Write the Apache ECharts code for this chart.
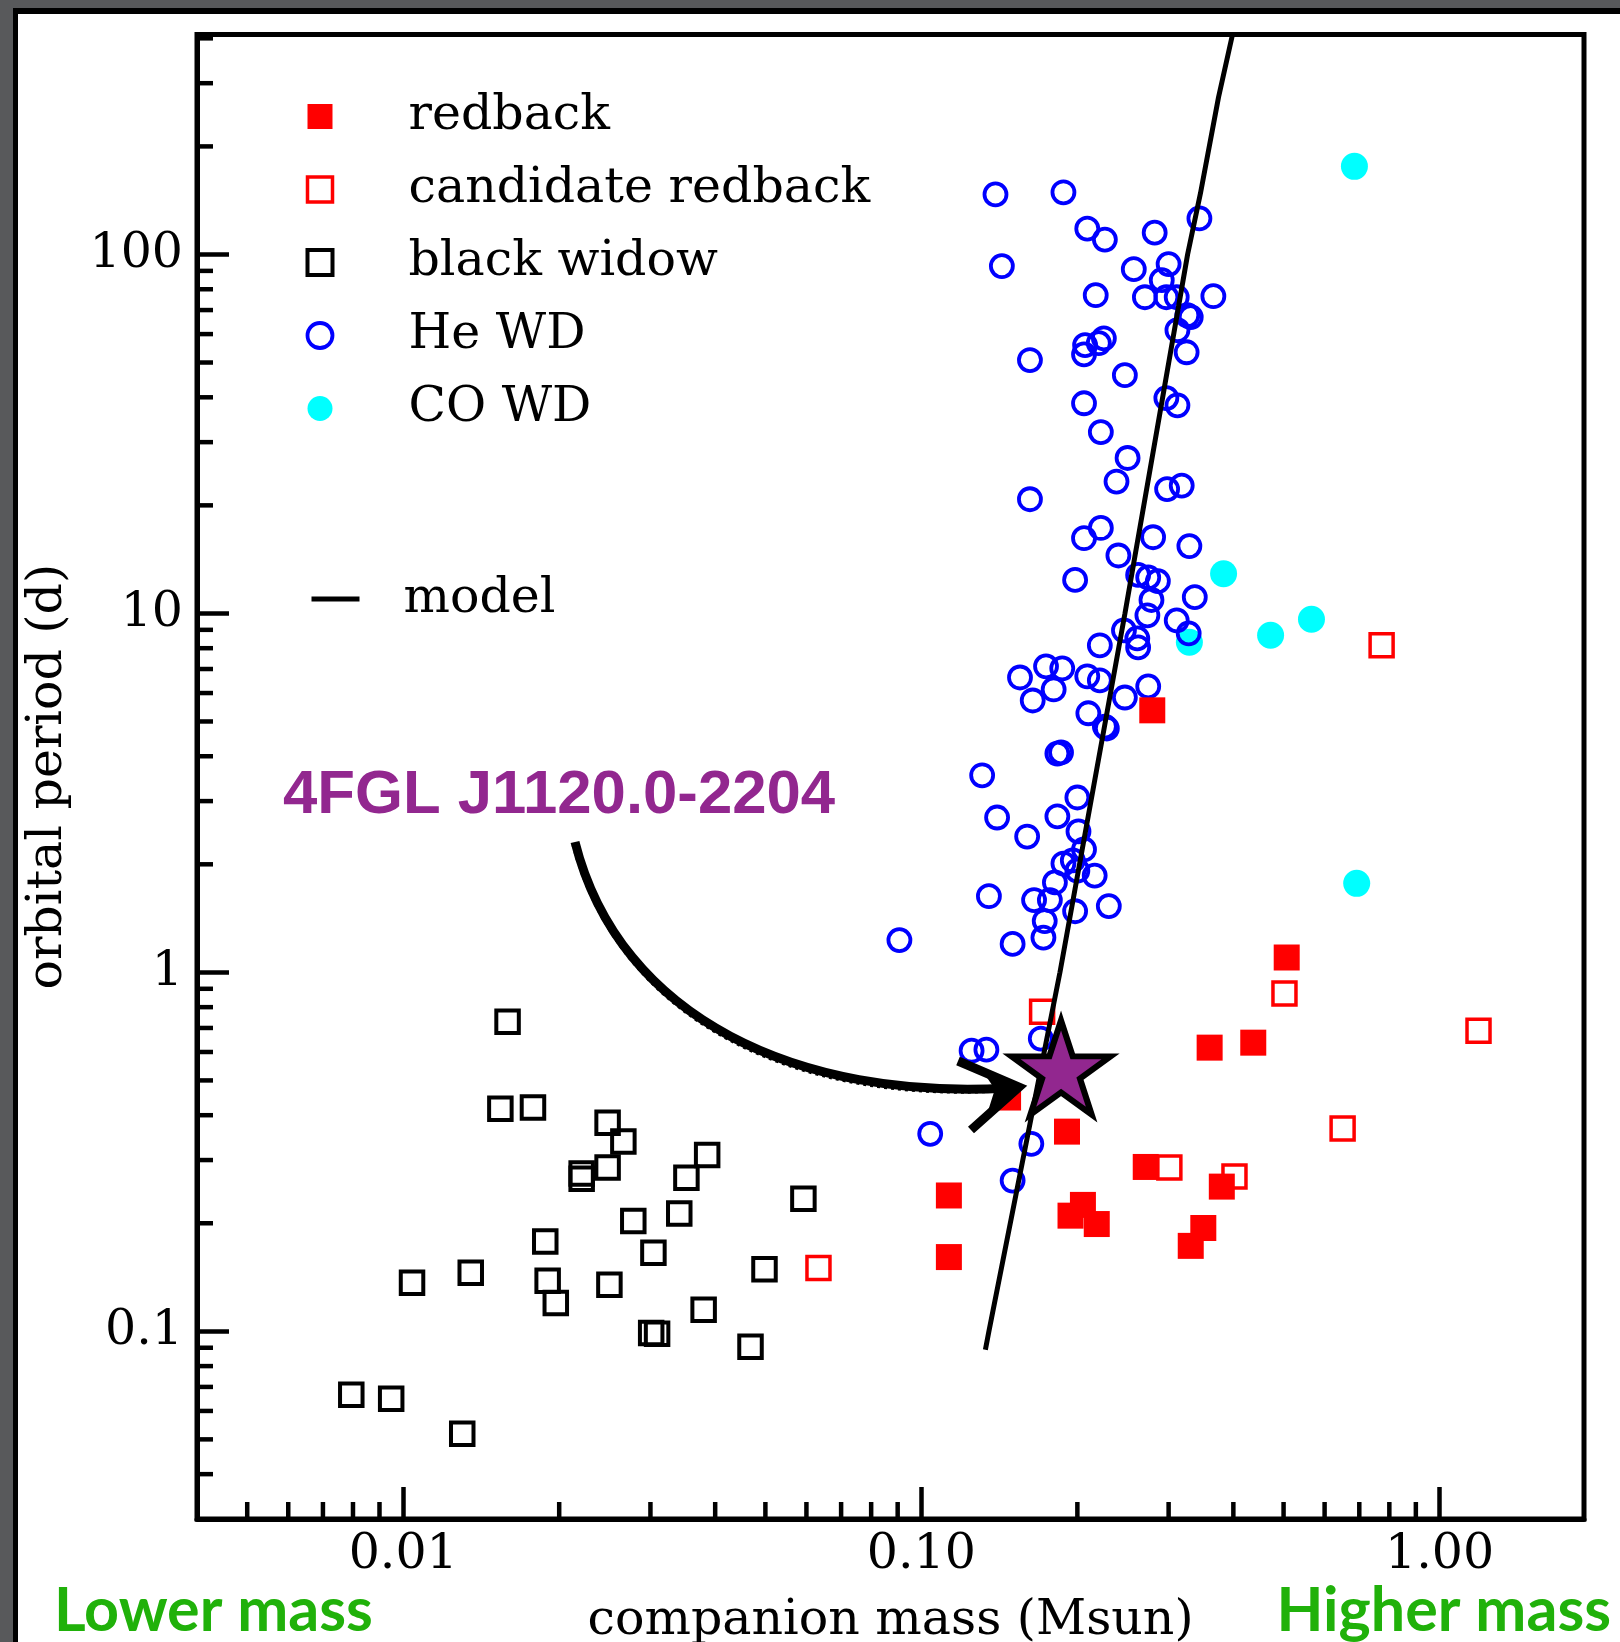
<!DOCTYPE html>
<html><head><meta charset="utf-8">
<script src="https://cdn.jsdelivr.net/npm/echarts@6/dist/echarts.min.js"></script>
<style>
html,body{margin:0;padding:0;background:#58595b;width:1620px;height:1642px;overflow:hidden;}
#frame{position:absolute;left:13px;top:8px;width:1602px;height:1628px;background:#fff;border-left:5px solid #000;border-top:6px solid #000;}
#chart{position:absolute;left:0;top:0;width:1620px;height:1642px;}
</style></head><body><div id="frame"></div><div id="chart"></div>
<script>
// ---- data (companion mass in Msun, orbital period in days) ----
const redbackMass   = [0.507,0.360,0.437,0.279,0.191,0.271,0.113,0.205,0.194,0.218,0.380,0.350,0.331,0.113,0.147];
const redbackPeriod = [1.10,0.617,0.637,5.37,0.360,0.287,0.239,0.225,0.210,0.199,0.253,0.194,0.173,0.161,0.448];

const candRbMass   = [0.773,0.171,0.502,1.189,0.650,0.301,0.402,0.0633];
const candRbPeriod = [8.15,0.777,0.873,0.688,0.367,0.286,0.270,0.150];

const bwMass   = [0.0159,0.0154,0.0178,0.0248,0.0266,0.0248,0.0221,0.0221,0.0386,0.0352,0.0592,0.0341,0.0278,0.0188,0.0304,0.0498,0.0135,0.0104,0.0190,0.0197,0.0250,0.0380,0.0301,0.0309,0.0468,0.00794,0.00948,0.0130];
const bwPeriod = [0.729,0.417,0.420,0.381,0.338,0.286,0.275,0.266,0.310,0.268,0.234,0.213,0.203,0.178,0.1655,0.149,0.1456,0.1366,0.1383,0.120,0.1348,0.1148,0.0990,0.0985,0.0906,0.0666,0.0649,0.0518];

const heWdMass = [0.139,0.188,0.209,0.226,0.282,0.344,0.143,0.257,0.300,0.291,
  0.217,0.270,0.297,0.311,0.366,0.326,0.331,0.312,0.325,0.225,
  0.220,0.207,0.206,0.162,0.247,0.206,0.297,0.312,0.222,0.250,
  0.238,0.298,0.318,0.162,0.222,0.206,0.280,0.329,0.240,0.198,
  0.262,0.274,0.286,0.278,0.273,0.337,0.311,0.328,0.246,0.261,
  0.262,0.221,0.155,0.174,0.187,0.180,0.164,0.209,0.221,0.274,
  0.247,0.210,0.226,0.228,0.183,0.186,0.131,0.200,0.140,0.183,
  0.160,0.201,0.206,0.188,0.196,0.200,0.216,0.181,0.135,0.165,
  0.177,0.198,0.230,0.173,0.172,0.150,0.0907,0.170,0.125,0.1335,
  0.104,0.163,0.150];
const heWdPeriod = [147,149,118,110,115,126,92.8,91.0,94.0,84.8,
  77.0,76.0,76.0,76.0,76.5,67.7,66.9,61.5,53.4,58.4,
  56.6,55.9,52.7,50.8,46.1,38.5,39.8,38.0,32.0,27.1,
  23.3,22.2,22.7,20.8,17.3,16.2,16.3,15.4,14.5,12.4,
  12.8,12.6,12.3,10.9,9.88,11.1,9.56,8.80,8.97,8.52,
  8.04,8.15,6.63,7.12,7.03,6.14,5.72,6.68,6.51,6.26,
  5.83,5.27,4.84,4.78,4.07,4.10,3.54,3.07,2.70,2.72,
  2.39,2.47,2.20,2.01,2.05,1.92,1.86,1.78,1.63,1.59,
  1.59,1.48,1.53,1.39,1.25,1.20,1.23,0.654,0.605,0.609,
  0.355,0.333,0.263];

const coWdMass   = [0.685,0.383,0.472,0.566,0.329,0.692];
const coWdPeriod = [176,12.9,8.69,9.63,8.31,1.77];

const modelMass   = [0.1329,0.135,0.1851,0.2471,0.3264,0.3456,0.3745,0.3985];
const modelPeriod = [0.0888,0.1,1,10,100,148,274,410];

const starMass = 0.186, starPeriod = 0.526;
const starName = '4FGL J1120.0-2204';

const xTickValues = [0.01, 0.1, 1];
const xTickLabels = ['0.01', '0.10', '1.00'];
const yTickValues = [0.1, 1, 10, 100];
const yTickLabels = ['0.1', '1', '10', '100'];
const xMinorTicks = [0.005,0.006,0.007,0.008,0.009,0.02,0.03,0.04,0.05,0.06,0.07,0.08,0.09,0.2,0.3,0.4,0.5,0.6,0.7,0.8,0.9];
const yMinorTicks = [0.04,0.05,0.06,0.07,0.08,0.09,0.2,0.3,0.4,0.5,0.6,0.7,0.8,0.9,2,3,4,5,6,7,8,9,20,30,40,50,60,70,80,90,200,300,400];
const xRange = [0.004, 1.9];
const yRange = [0.03, 410];

// ---- build ----
const zip = (a, b) => a.map((v, i) => [v, b[i]]);
const SERIF = '"DejaVu Serif", serif';
const FS = 49;
function fmt(values, labels) {
  return v => {
    for (let i = 0; i < values.length; i++) {
      if (Math.abs(Math.log10(v) - Math.log10(values[i])) < 1e-6) return labels[i];
    }
    return '';
  };
}
const STAR = 'path://M50 0 L61.23 34.55 L97.55 34.55 L68.17 55.9 L79.39 90.45 L50 69.1 L20.61 90.45 L31.83 55.9 L2.45 34.55 L38.77 34.55 Z';
const EMPTY = 'rgba(0,0,0,0)';

const chart = echarts.init(document.getElementById('chart'), null, {renderer: 'canvas'});
const option = {
  animation: false,
  backgroundColor: 'transparent',
  grid: {left: 197, top: 34.5, right: 36, bottom: 123, show: true, borderColor: '#000', borderWidth: 5, backgroundColor: 'transparent', containLabel: false, outerBoundsMode: 'none'},
  xAxis: {
    type: 'log', logBase: 10, min: xRange[0], max: xRange[1],
    name: 'companion mass (Msun)', nameLocation: 'middle', nameGap: 78, nameMoveOverlap: false,
    nameTextStyle: {fontFamily: SERIF, fontSize: FS, color: '#000'},
    axisLine: {show: true, lineStyle: {color: '#000', width: 5}},
    axisTick: {show: true, inside: true, length: 32, lineStyle: {color: '#000', width: 4.5}},
    minorTick: {show: false}, splitLine: {show: false},
    axisLabel: {formatter: fmt(xTickValues, xTickLabels), showMinLabel: false, showMaxLabel: false, interval: 0, hideOverlap: false,
      fontFamily: SERIF, fontSize: FS, color: '#000', margin: 12}
  },
  yAxis: {
    type: 'log', logBase: 10, min: yRange[0], max: yRange[1],
    name: 'orbital period (d)', nameLocation: 'middle', nameGap: 124, nameMoveOverlap: false,
    nameTextStyle: {fontFamily: SERIF, fontSize: FS, color: '#000'},
    axisLine: {show: true, lineStyle: {color: '#000', width: 5}},
    axisTick: {show: true, inside: true, length: 32, lineStyle: {color: '#000', width: 4.5}},
    minorTick: {show: false}, splitLine: {show: false},
    axisLabel: {formatter: fmt(yTickValues, yTickLabels), showMinLabel: false, showMaxLabel: false, interval: 0, hideOverlap: false,
      fontFamily: SERIF, fontSize: FS, color: '#000', margin: 14}
  },
  legend: [
    {
      orient: 'vertical', left: 300.5, top: 78.5, itemWidth: 25, itemHeight: 25, itemGap: 7, selectedMode: false,
      textStyle: {fontFamily: SERIF, fontSize: FS, color: '#000', lineHeight: 49, padding: [17, 0, 0, 71]},
      data: [
        {name: 'redback', icon: 'rect', itemStyle: {color: '#ff0000', borderWidth: 0, opacity: 1}},
        {name: 'candidate redback', icon: 'rect', itemStyle: {color: EMPTY, borderColor: '#ff0000', borderWidth: 3.5, opacity: 1}},
        {name: 'black widow', icon: 'rect', itemStyle: {color: EMPTY, borderColor: '#000', borderWidth: 4, opacity: 1}},
        {name: 'He WD', icon: 'circle', itemStyle: {color: EMPTY, borderColor: '#0000ff', borderWidth: 3.8, opacity: 1}},
        {name: 'CO WD', icon: 'circle', itemStyle: {color: '#00ffff', borderWidth: 0, opacity: 1}}
      ]
    },
    {
      orient: 'vertical', left: 304, top: 563.5, itemWidth: 48, itemHeight: 14, selectedMode: false,
      textStyle: {fontFamily: SERIF, fontSize: FS, color: '#000', lineHeight: 49, padding: [12, 0, 0, 39]},
      data: [{name: 'model', itemStyle: {color: EMPTY, borderWidth: 0, opacity: 0}, lineStyle: {color: '#000', width: 5, opacity: 1}}]
    }
  ],
  series: [
    {name: 'CO WD', type: 'scatter', data: zip(coWdMass, coWdPeriod), symbol: 'circle', symbolSize: 27,
      itemStyle: {color: '#00ffff', opacity: 1}, z: 2},
    {name: 'He WD', type: 'scatter', data: zip(heWdMass, heWdPeriod), symbol: 'circle', symbolSize: 22,
      itemStyle: {color: EMPTY, borderColor: '#0000ff', borderWidth: 3.8, opacity: 1}, z: 3},
    {name: 'black widow', type: 'scatter', data: zip(bwMass, bwPeriod), symbol: 'rect', symbolSize: 22.5,
      itemStyle: {color: EMPTY, borderColor: '#000', borderWidth: 4, opacity: 1}, z: 3},
    {name: 'candidate redback', type: 'scatter', data: zip(candRbMass, candRbPeriod), symbol: 'rect', symbolSize: 23,
      itemStyle: {color: EMPTY, borderColor: '#ff0000', borderWidth: 3.5, opacity: 1}, z: 3},
    {name: 'redback', type: 'scatter', data: zip(redbackMass, redbackPeriod), symbol: 'rect', symbolSize: 26,
      itemStyle: {color: '#ff0000', opacity: 1}, z: 4},
    {name: 'model', type: 'line', data: zip(modelMass, modelPeriod), symbol: 'none', showSymbol: false,
      lineStyle: {color: '#000', width: 5}, itemStyle: {color: '#000'}, z: 5},
    {name: starName, type: 'scatter', data: [[starMass, starPeriod]], symbol: STAR, symbolSize: [99, 94], symbolOffset: [0, -5],
      itemStyle: {color: '#92278f', borderColor: '#000', borderWidth: 6, opacity: 1}, z: 6},
    {name: 'xminor', type: 'custom', silent: true, z: 7, clip: false,
      data: xMinorTicks.map(v => [v, 1]),
      renderItem: (params, api) => {
        const cs = params.coordSys; const x = api.coord([api.value(0), 1])[0]; const yb = cs.y + cs.height;
        return {type: 'line', shape: {x1: x, y1: yb, x2: x, y2: yb - 17}, style: {stroke: '#000', lineWidth: 4.5}};
      }},
    {name: 'yminor', type: 'custom', silent: true, z: 7, clip: false,
      data: yMinorTicks.map(v => [0.1, v]),
      renderItem: (params, api) => {
        const cs = params.coordSys; const y = api.coord([0.1, api.value(1)])[1]; const xl = cs.x;
        return {type: 'line', shape: {x1: xl, y1: y, x2: xl + 16, y2: y}, style: {stroke: '#000', lineWidth: 4.5}};
      }}
  ],
  graphic: [
    {type: 'text', x: 283, y: 796, z: 20, style: {text: starName, fill: '#92278f', fontFamily: '"Liberation Sans", Arial, sans-serif', fontWeight: 'bold', fontSize: 61.7, verticalAlign: 'middle', align: 'left'}},
    {type: 'bezierCurve', z: 20, shape: {x1: 575, y1: 842, cpx1: 620, cpy1: 1020, cpx2: 800, cpy2: 1100, x2: 1008, y2: 1088}, style: {stroke: '#000', lineWidth: 9, fill: null}},
    {type: 'bezierCurve', z: 20, shape: {x1: 573, y1: 845, cpx1: 621, cpy1: 1024, cpx2: 798, cpy2: 1103, x2: 1000, y2: 1091}, style: {stroke: '#000', lineWidth: 3, fill: null, lineDash: [3, 4]}},
    {type: 'polyline', z: 20, shape: {points: [[958, 1061], [1019, 1087], [971, 1130]]}, style: {stroke: '#000', lineWidth: 9, fill: null, lineJoin: 'miter'}},
    {type: 'polygon', z: 20, shape: {points: [[985, 1073], [1022, 1087], [990, 1108], [996, 1089]]}, style: {fill: '#000', stroke: '#000', lineWidth: 2}},
    {type: 'text', x: 54, y: 1611, z: 20, style: {text: 'Lower mass', fill: '#20b10a', fontFamily: 'Lato, sans-serif', fontWeight: 'bold', fontSize: 61, verticalAlign: 'middle', align: 'left'}},
    {type: 'text', x: 1611, y: 1611, z: 20, style: {text: 'Higher mass', fill: '#20b10a', fontFamily: 'Lato, sans-serif', fontWeight: 'bold', fontSize: 61, verticalAlign: 'middle', align: 'right'}}
  ]
};
chart.setOption(option);
</script></body></html>
